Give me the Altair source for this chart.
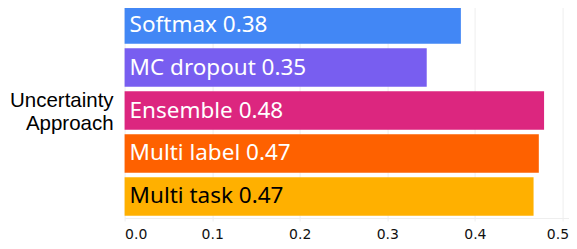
import altair as alt
import pandas as pd

approaches = ["Softmax", "MC dropout", "Ensemble", "Multi label", "Multi task"]
scores = [0.384, 0.345, 0.479, 0.473, 0.467]
labels = ["Softmax 0.38", "MC dropout 0.35", "Ensemble 0.48", "Multi label 0.47", "Multi task 0.47"]
bar_colors = ["#4287F5", "#785EF0", "#DC267F", "#FE6100", "#FFB000"]
text_colors = ["white", "white", "white", "white", "black"]
x_ticks = [0.0, 0.1, 0.2, 0.3, 0.4, 0.5]

df = pd.DataFrame({
    "approach": approaches,
    "score": scores,
    "label": labels,
    "tc": text_colors,
})

y_enc = alt.Y(
    "approach:N",
    sort=approaches,
    scale=alt.Scale(paddingInner=0.1, paddingOuter=0.05),
    axis=alt.Axis(
        title=["Uncertainty", "Approach"],
        labels=False, ticks=False, domain=False, grid=False,
        titleAngle=0, titleAlign="right", titleBaseline="middle",
        titleX=-11.5, titleY=97,
        titleFont="Liberation Sans", titleFontSize=20.5, titleFontWeight="normal",
        titleColor="black", titleLineHeight=24,
    ),
)

x_scale = alt.Scale(domain=[0, 0.507], nice=False)

bars = alt.Chart(df).mark_bar().encode(
    x=alt.X(
        "score:Q",
        scale=x_scale,
        axis=alt.Axis(
            values=x_ticks, format=".1f", title=None, grid=True,
            gridColor="#EEEEEE", domainColor="#EEEEEE", tickColor="#EEEEEE",
            tickSize=3, labelFont="DejaVu Sans", labelFontSize=14,
            labelColor="#111111", labelPadding=7,
            labelOffset={"condition": {"test": "datum.value >= 0.5", "value": -5}, "value": 0},
        ),
    ),
    y=y_enc,
    color=alt.Color("approach:N", sort=approaches,
                    scale=alt.Scale(domain=approaches, range=bar_colors), legend=None),
)

texts = alt.Chart(df).mark_text(
    align="left", baseline="middle", dx=5, font="Noto Sans", fontSize=22.5
).encode(
    x=alt.datum(0),
    y=alt.Y("approach:N", sort=approaches),
    text="label:N",
    color=alt.Color("tc:N", scale=None),
)

chart = alt.layer(bars, texts).properties(
    width=444, height=215,
    autosize=alt.AutoSizeParams(type="none"),
    padding={"left": 116.6, "top": -5, "right": 0, "bottom": 30},
).configure_view(stroke=None)

chart.save("out.html", embed_options={"renderer": "svg", "actions": False})
